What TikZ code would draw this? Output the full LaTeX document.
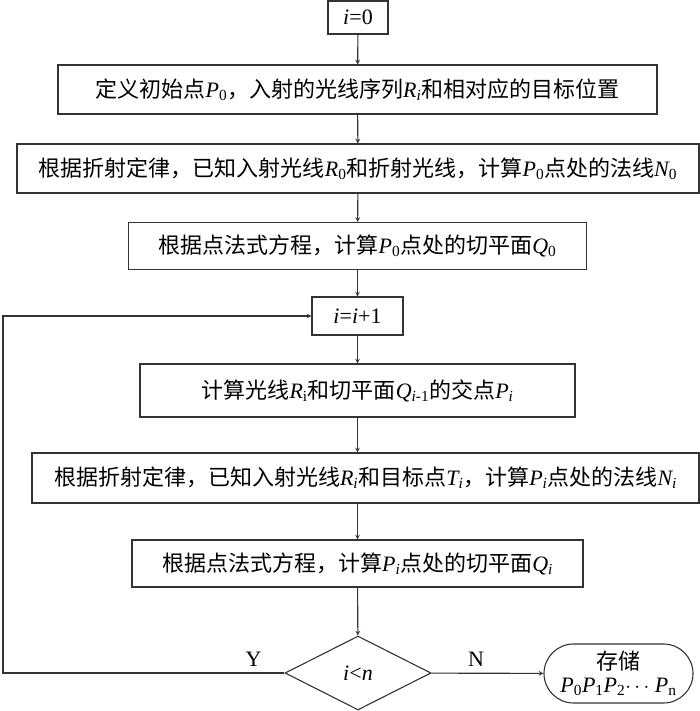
\documentclass[tikz,border=0pt]{standalone}
\usepackage{fontspec}
\setmainfont{Liberation Serif}
\newfontfamily\cjk{Noto Sans CJK SC}
\usepackage{tikz}
\usetikzlibrary{shapes.geometric,shapes.misc}
\newcommand{\vname}[2]{{\rmfamily\itshape #1}\textsubscript{\rmfamily #2}}

\begin{document}
\begin{tikzpicture}[x=1pt, y=-1pt]
        % Define styles
        \tikzset{
            process/.style={rectangle, draw=black!80, line width=1.1pt, inner sep=0pt, font=\cjk\fontsize{22}{26}\selectfont},
            decision/.style={diamond, draw=black!80, line width=1.1pt, inner sep=0pt, minimum width=146pt, minimum height=74pt, font=\rmfamily\fontsize{22}{26}\selectfont},
            terminal/.style={rounded rectangle, draw=black!80, line width=1.1pt, inner sep=0pt, minimum width=149pt, minimum height=59pt, align=center, font=\cjk\fontsize{22}{25}\selectfont},
            arrow/.style={->,>=stealth, draw=black!80, line width=1.1pt}
        }
        \useasboundingbox (0,0) rectangle (700,711);

        % Nodes
        \node[process, minimum width=60pt, minimum height=33pt, font=\rmfamily\fontsize{22}{26}\selectfont] (start_node) at (358,17.5) {\textit{i}=0};
        \node[process, minimum width=599pt, minimum height=49pt] (init_node) at (357.5,89.5) {定义初始点\vname{P}{0}，入射的光线序列\vname{R}{\itshape i}和相对应的目标位置};
        \node[process, minimum width=682pt, minimum height=49pt] (normal_node_0) at (358,168.5) {根据折射定律，已知入射光线\vname{R}{0}和折射光线，计算\vname{P}{0}点处的法线\vname{N}{0}};
        \node[process, minimum width=458pt, minimum height=47pt] (plane_node_0) at (357.5,246) {根据点法式方程，计算\vname{P}{0}点处的切平面\vname{Q}{0}};
        \node[process, minimum width=91pt, minimum height=38pt, font=\rmfamily\fontsize{22}{26}\selectfont] (step_node) at (357.5,316) {\textit{i}=\textit{i}+1};
        \node[process, minimum width=435pt, minimum height=53pt] (cross_node) at (357.5,390.5) {计算光线\vname{R}{i}和切平面\vname{Q}{\itshape i\upshape -1}的交点\vname{P}{\itshape i}};
        \node[process, minimum width=667pt, minimum height=50pt] (normal_node_i) at (365.5,478) {根据折射定律，已知入射光线\vname{R}{\itshape i}和目标点\vname{T}{\itshape i}，计算\vname{P}{\itshape i}点处的法线\vname{N}{\itshape i}};
        \node[process, minimum width=451pt, minimum height=47pt] (plane_node_i) at (357.5,563.5) {根据点法式方程，计算\vname{P}{\itshape i}点处的切平面\vname{Q}{\itshape i}};
        \node[decision] (check_node) at (358,673) {\textit{i}<\textit{n}};
        \node[terminal] (store_node) at (618.5,673.5) {存储\\[-2pt]{\rmfamily\vname{P}{0}\vname{P}{1}\vname{P}{2}$\cdots$\ \vname{P}{n}}};
        \coordinate (loop_corner) at (3,673);

        % Arrows
        \draw[arrow] (start_node) -- (init_node);
        \draw[arrow] (init_node) -- (normal_node_0);
        \draw[arrow] (normal_node_0) -- (plane_node_0);
        \draw[arrow] (plane_node_0) -- (step_node);
        \draw[arrow] (step_node) -- (cross_node);
        \draw[arrow] (cross_node) -- (cross_node |- normal_node_i.north);
        \draw[arrow] (plane_node_i |- normal_node_i.south) -- (plane_node_i);
        \draw[arrow] (plane_node_i) -- (check_node);
        \draw[arrow] (check_node) -- (store_node) node[pos=0.4, above=3pt, font=\rmfamily\fontsize{22}{26}\selectfont] {N};
        \draw[arrow] (check_node) -- (loop_corner) node[pos=0.11, above=3pt, font=\rmfamily\fontsize{22}{26}\selectfont] {Y} |- (step_node);
    \end{tikzpicture}
\end{document}
